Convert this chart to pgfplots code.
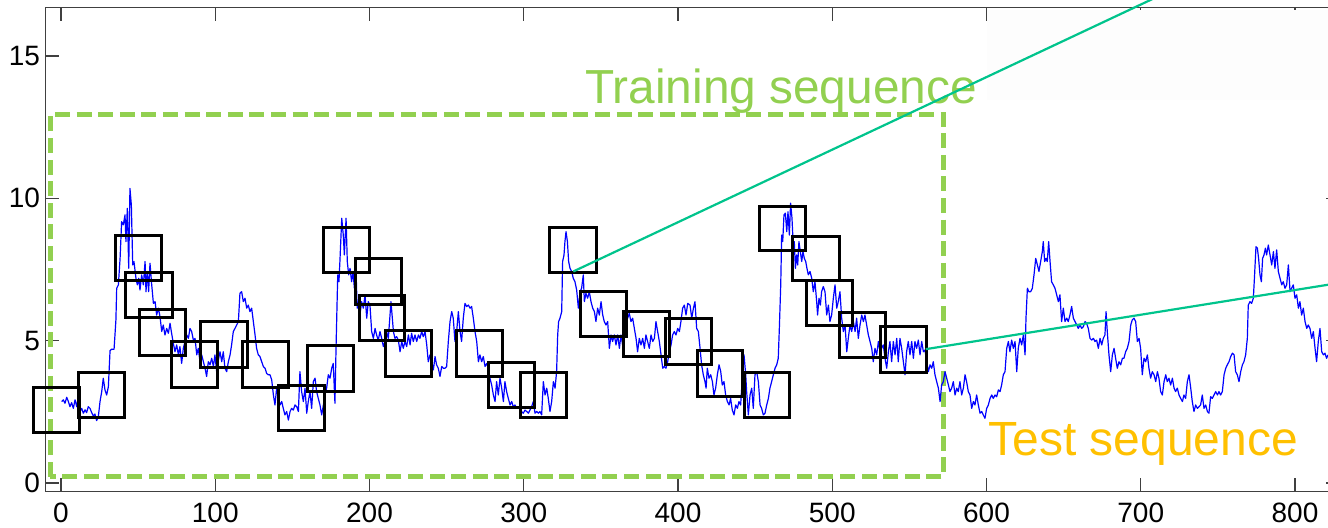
\documentclass[border=0pt]{standalone}
\usepackage{fontspec}
\setmainfont{Liberation Sans}
\usepackage{pgfplots}
\pgfplotsset{compat=1.18}
\definecolor{tgreen}{HTML}{92D050}
\definecolor{tgold}{HTML}{FFC000}
\definecolor{tteal}{RGB}{0,196,140}
\definecolor{axgray}{gray}{0.25}
\begin{document}
\begin{tikzpicture}
\begin{axis}[
  scale only axis, width=647.08pt, height=242.2pt,
  xmin=-10, xmax=829, ymin=-0.306, ymax=16.715,
  clip=false,
  axis line style={axgray, line width=0.7pt},
  tick style={axgray, line width=0.7pt},
  major tick length=6.7pt,
  tick align=inside,
  xtick={0,100,...,800}, ytick={0,5,10,15},
  /pgf/number format/assume math mode=true,
  /pgf/number format/set thousands separator={},
  scaled ticks=false,
  ticklabel style={font=\fontsize{14}{16}\selectfont, text=black},
  xticklabel style={inner sep=0pt, yshift=-5.6pt},
  yticklabel style={inner sep=0pt, xshift=-2.6pt},
]
\coordinate (bbll) at (axis cs:-39.55,-1.581);
\coordinate (bbur) at (axis cs:821.4,16.97);
% faint overlay
\fill[black!0.8] (axis cs:600.3,13.46) rectangle (axis cs:829,16.62);
% training region
\draw[tgreen, line width=2.5pt, dash pattern=on 7.5pt off 3.3pt] (axis cs:-6.9,0.21) rectangle (axis cs:572,12.95);
% blue series
\addplot[blue, line width=0.6pt, mark=none, line join=round] coordinates {
(0.4,2.86)(1.5,2.92)(2.6,2.80)(3.7,3.01)(4.8,2.86)(5.8,2.68)(6.9,2.82)(8.0,2.62)(9.1,2.92)(10.2,2.68)(11.2,3.01)(12.3,2.51)(13.4,2.62)(14.5,2.45)(15.6,2.57)(16.6,2.47)(17.7,2.68)(18.8,2.62)(19.9,2.47)(21.0,2.35)(22.0,2.42)(23.1,2.19)(24.2,2.33)(25.3,2.86)(26.4,3.21)(27.4,3.68)(28.5,3.27)(29.6,3.09)(30.7,3.38)(31.8,4.65)(32.8,4.70)(34.4,4.70)(35.6,5.73)(36.1,6.84)(37.2,6.96)(38.3,7.89)(39.3,9.18)(40.4,9.07)(41.5,9.42)(42.1,8.48)(43.0,9.65)(43.9,7.54)(44.7,10.35)(45.6,9.77)(46.5,7.66)(47.3,7.78)(48.6,7.19)(49.5,6.96)(50.4,7.19)(51.2,6.78)(52.3,7.31)(53.4,6.96)(54.5,7.78)(55.1,6.72)(56.0,7.43)(56.8,6.72)(57.7,7.72)(58.8,6.96)(59.9,6.31)
(61.0,6.37)(62.0,5.90)(63.1,6.14)(64.2,5.84)(65.3,5.32)(66.3,5.55)(67.4,5.20)(68.5,5.43)(69.6,5.26)(70.7,5.61)(71.7,5.26)(72.8,4.91)(73.9,4.61)(75.0,4.85)(76.1,4.50)(77.1,4.79)(78.2,4.20)(79.3,4.73)(80.4,4.97)(81.5,5.20)(82.6,5.08)(83.6,5.43)(84.7,5.32)(85.8,5.02)(86.9,5.08)(88.0,4.50)(89.0,4.73)(90.1,4.26)(91.2,4.50)(92.3,4.26)(93.4,4.03)(94.4,3.74)(95.5,4.26)(96.6,4.15)(97.7,4.38)(98.8,4.09)(99.8,4.50)(100.9,3.91)(102.0,4.32)(103.1,4.61)(104.2,4.26)(105.2,4.61)(106.3,4.03)(107.4,3.91)(108.5,4.26)(109.6,4.50)(110.6,4.85)(111.7,5.32)(112.8,5.43)(113.9,5.55)(115.0,5.67)(116.0,6.66)(117.1,6.72)(118.2,6.37)(119.3,6.49)(120.4,6.14)(121.4,6.25)(122.5,6.02)(123.6,6.14)(124.7,5.67)(125.8,5.20)(126.8,4.73)(127.9,4.50)(129.0,4.44)(130.1,4.26)(131.2,4.09)(132.3,4.03)(133.3,3.85)(134.4,3.80)(135.5,3.80)(136.6,3.62)(137.7,3.09)(138.7,2.74)(139.8,3.33)
(140.9,2.97)(142.0,2.74)(143.1,2.86)(144.1,2.62)(145.2,2.39)(146.3,2.51)(147.4,2.21)(148.5,2.51)(149.5,2.62)(150.6,2.56)(151.7,2.74)(152.8,2.68)(153.9,2.51)(154.9,3.91)(156.0,3.21)(157.1,2.86)(158.2,3.33)(159.3,2.45)(160.3,2.86)(161.4,3.21)(162.5,2.62)(163.6,3.56)(164.7,3.68)(165.7,3.21)(166.8,2.97)(167.9,2.74)(169.0,2.39)(170.1,2.74)(171.1,3.09)(172.2,3.33)(173.3,3.80)(174.4,3.68)(175.5,4.03)(176.5,4.20)(177.6,2.80)(178.3,4.73)(179.4,7.31)(180.2,7.07)(180.9,7.89)(182.0,9.30)(183.0,8.71)(183.7,8.01)(184.8,9.30)(185.6,7.78)(186.5,7.31)(187.4,7.54)(188.4,7.07)(189.3,7.43)(190.2,6.84)(191.1,7.78)(192.0,6.14)(192.9,6.37)(193.8,5.90)(194.9,6.37)(196.0,6.14)(197.1,6.61)(198.2,5.79)(199.2,6.37)(200.3,6.25)
(201.4,5.32)(202.5,5.08)(203.6,5.43)(204.6,5.20)(205.7,5.02)(206.8,5.32)(207.9,5.08)(209.0,4.79)(210.0,4.97)(211.1,5.32)(212.2,5.08)(213.3,5.90)(213.9,6.37)(214.8,5.79)(215.5,5.32)(216.5,5.08)(217.6,5.14)(218.7,5.02)(219.8,4.61)(220.9,4.97)(221.9,4.73)(223.0,4.97)(224.1,4.79)(225.2,5.20)(226.3,4.85)(227.3,5.26)(228.4,4.97)(229.5,5.20)(230.6,4.97)(231.7,5.20)(232.7,5.08)(233.8,5.32)(234.9,5.14)(236.0,5.32)(237.1,4.85)(238.1,4.26)(239.2,4.50)(240.3,4.26)(241.4,3.97)(242.5,4.44)(243.5,4.15)(244.6,4.03)(245.7,3.74)(246.8,4.09)(247.9,4.03)(248.9,4.03)(250.0,4.09)(251.1,4.97)(252.2,5.67)(253.3,6.02)(254.3,5.79)(255.4,4.97)(256.5,5.32)(257.6,6.02)(258.7,5.32)(259.7,4.97)(260.8,5.79)(261.9,6.31)(263.0,6.20)(264.1,6.25)(265.2,6.14)(266.2,6.20)(267.3,5.79)(268.4,5.32)(269.5,4.97)
(270.6,4.26)(271.6,4.50)(272.7,4.26)(273.8,4.44)(274.9,4.09)(276.0,4.20)(277.0,4.03)(278.1,3.68)(279.2,3.44)(280.3,3.09)(281.4,2.86)(282.4,3.56)(283.5,3.09)(284.6,3.68)(285.7,3.33)(286.8,2.86)(287.8,3.56)(288.9,3.21)(290.0,2.97)(291.1,2.74)(292.2,2.86)(293.2,2.68)(294.3,2.74)(295.4,2.62)(296.5,2.68)(297.6,2.62)(298.6,2.51)(299.7,2.45)(300.8,2.56)(301.9,2.51)(303.0,2.45)(304.0,2.56)(305.1,2.68)(306.2,2.86)(307.3,2.45)(308.4,2.51)(309.5,2.45)(310.5,2.51)(311.6,2.39)(312.7,3.56)(313.8,3.09)(314.9,3.33)(315.9,2.97)(317.0,2.51)(318.1,2.86)(319.2,3.56)(320.3,3.33)(321.3,3.91)(322.0,5.20)(322.6,5.67)(323.5,5.79)(324.6,6.02)(325.2,7.78)(326.1,8.01)(326.7,8.48)(327.4,8.83)(328.3,8.48)(329.1,7.78)(330.0,7.54)(331.1,7.43)(332.1,7.19)(333.2,7.07)(334.3,6.78)(335.4,6.14)(336.5,6.72)(337.5,6.84)(338.6,7.31)(339.3,6.37)
(340.3,6.66)(341.4,6.49)(342.5,6.72)(343.6,6.37)(344.7,6.14)(345.8,6.02)(346.8,5.67)(347.9,6.14)(349.0,5.90)(350.1,6.37)(351.2,5.90)(352.2,5.67)(353.3,5.55)(354.4,5.67)(355.5,4.73)(356.6,5.20)(357.6,4.97)(358.7,5.20)(359.8,4.85)(360.9,5.20)(362.0,4.73)(363.0,5.20)(364.1,4.85)(365.2,5.20)(366.3,5.90)(367.4,5.79)(368.4,5.96)(369.5,5.67)(370.6,5.79)(371.7,5.43)(372.8,5.08)(373.8,4.61)(374.9,5.08)(376.0,4.85)(377.1,5.08)(378.2,4.73)(379.2,5.20)(380.3,4.97)(381.4,4.73)(382.5,5.20)(383.6,4.97)(384.7,5.08)(385.7,5.67)(386.8,5.32)(387.9,4.97)(389.0,4.50)(390.1,4.03)(391.1,4.09)(392.2,4.03)(393.3,4.26)(394.4,4.61)(395.5,4.85)(396.5,5.20)(397.6,5.32)(398.7,5.20)(399.8,5.43)(400.9,5.32)(401.9,5.67)(403.0,6.14)(404.1,6.25)(405.2,5.90)(406.3,6.31)
(407.8,6.25)(408.9,5.79)(410.0,6.14)(411.0,6.37)(412.1,5.43)(413.2,5.32)(414.3,4.73)(415.3,4.15)(416.4,3.80)(417.5,3.56)(418.2,3.33)(419.0,4.03)(420.1,3.68)(421.2,3.80)(422.3,3.56)(423.3,3.09)(424.4,3.33)(425.5,3.80)(426.6,4.15)(427.7,3.91)(428.7,3.44)(429.8,3.56)(430.9,3.09)(432.0,2.86)(433.1,2.74)(434.1,2.97)(435.2,2.56)(436.3,2.39)(437.4,2.74)(438.5,2.62)(439.5,2.86)(440.6,2.74)(441.7,3.68)(442.8,4.50)(443.9,3.80)(444.5,3.21)(445.6,2.39)(446.7,3.09)(447.8,3.33)(448.8,2.62)(449.9,3.80)(451.0,3.91)(452.1,3.56)(453.2,2.74)(454.2,2.62)(455.3,2.39)(456.4,2.45)(457.5,2.74)(458.6,2.97)(459.6,3.33)(460.7,3.56)(461.8,3.80)(462.9,4.03)(464.0,4.15)(465.0,4.38)(465.7,5.43)(466.6,6.96)(467.2,8.71)(467.9,8.48)(468.7,9.42)(469.6,9.48)(470.5,8.83)(471.3,9.53)(472.2,8.71)(473.0,9.83)(473.9,9.30)(474.8,8.25)
(475.4,8.48)(476.1,7.54)(476.9,8.01)(477.6,7.66)(478.4,8.48)(479.3,8.13)(480.2,7.78)(481.0,8.13)(481.9,7.89)(482.8,7.78)(483.6,7.54)(484.5,7.31)(485.6,7.43)(486.7,7.19)(487.7,6.72)(488.8,7.07)(489.9,6.37)(490.5,5.90)(491.4,6.49)(492.3,6.25)(493.1,6.72)(494.2,6.90)(495.3,6.72)(496.4,5.90)(497.5,6.25)(498.5,5.67)(499.6,5.90)(500.7,6.49)(501.8,6.96)(502.9,6.14)(503.9,6.37)(505.0,6.72)(506.1,5.79)(507.2,5.32)(508.3,5.55)(509.4,4.61)(510.4,5.08)(511.5,5.55)(512.6,5.32)(513.7,5.67)(514.8,5.32)(515.8,5.79)(516.9,5.08)(518.0,5.55)(519.1,5.90)(520.2,5.67)(521.2,5.90)(522.3,5.55)(523.4,5.20)(524.5,4.97)(525.6,4.73)(526.6,4.26)(527.7,4.73)(528.8,4.50)(529.9,4.97)(531.0,4.61)(532.0,4.73)(533.1,4.85)(534.2,4.38)(535.3,4.03)(536.4,4.61)(537.4,4.97)(538.5,4.26)(539.6,4.97)(540.7,4.50)(541.8,5.08)(542.8,4.26)(543.9,5.08)(545.0,4.73)(546.1,4.26)(547.2,3.80)(548.2,4.61)(549.3,4.97)(550.4,4.50)(551.5,4.97)(552.6,4.38)(553.6,4.97)(554.7,4.73)(555.8,5.02)(556.9,4.50)(558.0,4.97)(559.1,4.61)(560.1,4.67)
(561.2,4.26)(562.3,3.91)(563.4,4.15)(564.5,4.03)(565.5,4.26)(566.6,3.80)(567.7,3.56)(568.8,3.33)(569.9,2.86)(570.9,3.44)(572.0,3.56)(573.1,3.91)(574.2,3.68)(575.3,3.44)(576.3,3.21)(577.4,3.33)(578.5,3.56)(579.6,3.09)(580.7,3.33)(581.7,3.21)(582.8,3.56)(583.9,3.09)(585.0,3.33)(586.1,3.80)(587.1,3.56)(588.2,3.21)(589.3,3.09)(590.4,2.62)(591.5,2.86)(592.5,2.74)(593.6,3.09)(594.7,2.74)(595.8,2.45)(596.9,2.51)(597.9,2.39)(599.0,2.27)(600.1,2.62)(601.2,2.74)(602.3,2.97)(603.4,3.09)(604.4,2.97)(605.5,3.09)(606.6,3.03)(607.7,3.27)(608.8,3.21)(609.8,3.44)(610.9,3.80)(612.0,3.91)(613.1,4.73)(614.2,4.97)(615.2,4.61)(616.3,5.02)(617.4,4.73)(618.5,4.97)(619.6,3.91)(620.6,4.73)(621.7,5.08)(622.8,4.85)(623.9,5.20)(625.0,4.50)(625.6,5.79)(626.5,6.84)(627.5,6.72)(628.6,6.72)(629.7,6.84)(630.8,7.31)(631.9,7.89)(633.0,7.66)(634.0,7.43)(635.1,7.78)(636.2,8.13)(636.8,8.48)(637.7,7.78)(638.6,7.89)(639.4,7.78)(640.3,8.48)(641.2,7.78)
(642.2,7.07)(643.3,6.96)(644.4,6.84)(645.5,6.61)(646.6,6.37)(647.6,6.61)(648.7,5.67)(649.8,6.14)(650.9,5.67)(652.0,5.79)(653.0,5.67)(654.1,5.90)(655.2,6.20)(656.3,5.79)(657.4,5.67)(658.5,5.55)(659.5,5.43)(660.6,5.55)(661.7,5.43)(662.8,5.49)(663.9,5.67)(664.9,5.61)(666.0,5.43)(667.1,5.08)(668.2,5.02)(669.3,5.08)(670.3,4.97)(671.4,5.02)(672.5,4.73)(673.6,5.08)(674.7,4.85)(675.7,5.08)(676.8,5.20)(677.5,6.02)(678.3,5.32)(679.4,4.50)(680.5,3.91)(681.6,4.50)(682.7,4.73)(683.7,4.38)(684.8,4.03)(685.9,4.26)(687.0,4.15)(688.1,4.38)(689.1,4.38)(690.2,4.61)(691.3,4.73)(692.4,4.97)(693.5,5.55)(694.5,5.73)(695.6,5.79)(696.7,5.67)(697.8,4.97)(698.9,5.08)(699.9,4.73)(701.0,3.80)(702.1,4.38)(703.2,4.26)(704.3,4.50)(705.3,4.03)(706.4,3.68)(707.5,3.91)(708.6,3.80)(709.7,3.56)(710.8,3.91)(711.8,3.68)(712.9,3.21)(714.0,3.09)(715.1,3.56)(716.2,3.80)(717.2,3.56)(718.3,3.68)(719.4,3.44)(720.5,3.68)(721.6,3.33)(722.6,3.21)(723.7,3.33)(724.8,3.09)(725.9,2.97)(727.0,2.86)(728.0,3.09)(729.1,2.97)
(730.2,3.56)(731.3,3.80)(732.4,3.33)(733.4,2.86)(734.5,2.51)(735.6,2.74)(736.7,2.62)(737.8,2.68)(738.8,2.74)(739.9,3.09)(741.0,2.62)(742.1,2.74)(743.2,2.51)(744.2,2.45)(745.3,3.03)(746.4,2.97)(747.5,3.09)(748.6,3.21)(749.7,3.09)(750.7,3.21)(751.8,3.09)(752.9,3.21)(754.0,3.80)(755.1,4.03)(756.1,4.15)(757.2,4.26)(758.3,4.44)(759.4,4.56)(760.5,4.50)(761.5,3.91)(762.6,3.80)(763.7,3.56)(764.8,3.91)(765.9,4.15)(766.9,4.26)(768.0,4.50)(769.1,5.08)(769.7,6.25)(770.8,6.37)(771.9,6.31)(773.0,6.49)(773.8,7.31)(774.7,8.30)(775.6,8.25)(776.4,7.89)(777.3,7.31)(778.2,7.07)(779.0,7.89)(779.9,8.01)(780.8,8.25)(781.6,8.01)(782.7,8.36)(783.8,8.01)(784.9,7.66)(786.0,8.13)(787.0,7.54)(788.1,8.19)(789.2,7.43)(790.3,7.19)(791.4,6.96)(792.4,7.07)(793.5,6.84)(794.6,6.96)(795.7,7.66)(796.8,6.72)(797.8,6.84)(798.9,6.96)(800.0,6.49)(801.1,6.61)(802.2,6.14)(803.2,6.37)(804.3,5.90)(805.4,6.14)(806.5,5.67)(807.6,5.43)(808.6,5.55)(809.7,5.43)(810.8,5.08)(811.9,5.32)(813.0,4.73)(814.0,4.26)(815.1,4.97)(816.2,5.43)(817.3,4.61)(818.4,4.50)(819.4,4.56)(820.5,4.38)(821.4,4.50)
};
% sliding windows
\begin{scope}[line width=1.5pt, black]
\draw (axis cs:-18.0,1.77) rectangle (axis cs:11.9,3.36);
\draw (axis cs:11.5,2.29) rectangle (axis cs:41.3,3.89);
\draw (axis cs:35.5,7.11) rectangle (axis cs:65.3,8.70);
\draw (axis cs:42.1,5.81) rectangle (axis cs:72.0,7.40);
\draw (axis cs:50.8,4.49) rectangle (axis cs:80.6,6.08);
\draw (axis cs:71.8,3.36) rectangle (axis cs:101.3,4.96);
\draw (axis cs:90.6,4.07) rectangle (axis cs:120.6,5.67);
\draw (axis cs:117.5,3.36) rectangle (axis cs:147.4,4.96);
\draw (axis cs:140.9,1.83) rectangle (axis cs:170.5,3.42);
\draw (axis cs:159.7,3.23) rectangle (axis cs:189.5,4.82);
\draw (axis cs:170.0,7.40) rectangle (axis cs:199.9,8.98);
\draw (axis cs:191.2,6.28) rectangle (axis cs:220.9,7.90);
\draw (axis cs:193.4,4.99) rectangle (axis cs:223.0,6.60);
\draw (axis cs:210.5,3.75) rectangle (axis cs:240.1,5.34);
\draw (axis cs:256.5,3.75) rectangle (axis cs:286.1,5.34);
\draw (axis cs:277.3,2.64) rectangle (axis cs:306.8,4.23);
\draw (axis cs:297.8,2.29) rectangle (axis cs:327.6,3.89);
\draw (axis cs:316.6,7.40) rectangle (axis cs:346.9,8.98);
\draw (axis cs:336.5,5.13) rectangle (axis cs:366.3,6.72);
\draw (axis cs:364.5,4.43) rectangle (axis cs:394.2,6.02);
\draw (axis cs:392.2,4.17) rectangle (axis cs:421.9,5.77);
\draw (axis cs:412.8,3.05) rectangle (axis cs:442.1,4.65);
\draw (axis cs:442.8,2.29) rectangle (axis cs:472.6,3.89);
\draw (axis cs:452.7,8.15) rectangle (axis cs:482.5,9.73);
\draw (axis cs:474.3,7.11) rectangle (axis cs:504.4,8.67);
\draw (axis cs:483.6,5.52) rectangle (axis cs:513.3,7.11);
\draw (axis cs:504.6,4.39) rectangle (axis cs:534.2,6.00);
\draw (axis cs:531.0,3.88) rectangle (axis cs:560.8,5.48);
\end{scope}
% labels
\node[anchor=base west, inner sep=0pt, text=tgreen, font=\fontsize{23.9}{28}\selectfont] at (axis cs:339.7,13.34) {Training sequence};
\node[anchor=base west, inner sep=0pt, text=tgold, font=\fontsize{24.0}{28}\selectfont] at (axis cs:601.0,0.98) {Test sequence};
% matching lines
\addplot[tteal, line width=1.1pt, mark=none] coordinates {(332.1,7.43) (760,18.34)};
\addplot[tteal, line width=1.1pt, mark=none] coordinates {(560.6,4.70) (829,7.03)};
\end{axis}
\pgfresetboundingbox
\path[use as bounding box] (bbll) rectangle (bbur);
\end{tikzpicture}
\end{document}
